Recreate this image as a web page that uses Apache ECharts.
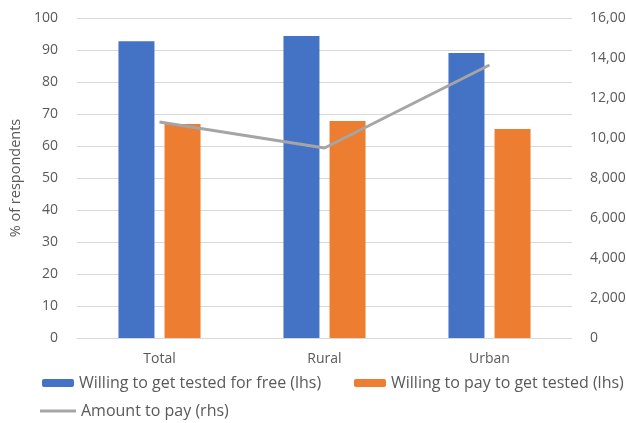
<!DOCTYPE html>
<html>
<head>
<meta charset="utf-8">
<script src="https://cdn.jsdelivr.net/npm/echarts@6/dist/echarts.min.js"></script>
<style>html,body{margin:0;padding:0;background:#fff}#c{width:626px;height:423px}</style>
</head>
<body>
<div id="c"></div>
<script>
const categories = ['Total', 'Rural', 'Urban'];
const freeTest = [92.7, 94.4, 89.1];
const payTest = [66.9, 67.8, 65.3];
const amountToPay = [10800, 9500, 13650];
const leftTicks = {min: 0, max: 100, interval: 10};
const rightTicks = {min: 0, max: 16000, interval: 2000};

const FONT = 'Open Sans';
const LABEL = '#595959';
const chart = echarts.init(document.getElementById('c'), null, {renderer: 'canvas'});
const legendText = {color: LABEL, fontFamily: FONT, fontSize: 16};
chart.setOption({
  animation: false,
  textStyle: {fontFamily: FONT},
  grid: {left: 77, right: 54, top: 18, bottom: 85, outerBoundsMode: 'none', containLabel: false},
  legend: [
    {data: ['Willing to get tested for free (lhs)'], left: 42, top: 375, itemWidth: 32, itemHeight: 8, itemGap: 0, textStyle: legendText, padding: 0},
    {data: ['Willing to pay to get tested (lhs)'], left: 354, top: 375, itemWidth: 32, itemHeight: 8, itemGap: 0, textStyle: legendText, padding: 0},
    {data: [{name: 'Amount to pay (rhs)', icon: 'rect'}], left: 40, top: 403, itemWidth: 36, itemHeight: 3, itemGap: 0, textStyle: legendText, padding: 0,
      itemStyle: {color: '#A5A5A5'}}
  ],
  xAxis: {
    type: 'category',
    data: categories,
    axisLine: {lineStyle: {color: '#D9D9D9'}},
    axisTick: {show: false},
    axisLabel: {color: LABEL, fontFamily: FONT, fontSize: 14, margin: 14}
  },
  yAxis: [
    {
      type: 'value', min: leftTicks.min, max: leftTicks.max, interval: leftTicks.interval,
      name: '% of respondents', nameLocation: 'middle', nameRotate: 90, nameGap: 52,
      nameTextStyle: {color: LABEL, fontFamily: FONT, fontSize: 14.5},
      axisLine: {show: false}, axisTick: {show: false},
      axisLabel: {color: LABEL, fontFamily: FONT, fontSize: 14, margin: 19},
      splitLine: {lineStyle: {color: '#D9D9D9'}}
    },
    {
      type: 'value', min: rightTicks.min, max: rightTicks.max, interval: rightTicks.interval,
      axisLine: {show: false}, axisTick: {show: false},
      axisLabel: {color: LABEL, fontFamily: FONT, fontSize: 14, margin: 18,
        formatter: v => v.toLocaleString('en-US')},
      splitLine: {show: false}
    }
  ],
  series: [
    {name: 'Willing to get tested for free (lhs)', type: 'bar', data: freeTest, barWidth: 36, barGap: '28%',
      itemStyle: {color: '#4472C4'}},
    {name: 'Willing to pay to get tested (lhs)', type: 'bar', data: payTest, barWidth: 36,
      itemStyle: {color: '#ED7D31'}},
    {name: 'Amount to pay (rhs)', type: 'line', yAxisIndex: 1, data: amountToPay, symbol: 'none',
      lineStyle: {color: '#A5A5A5', width: 3}, itemStyle: {color: '#A5A5A5'}}
  ]
});
</script>
</body>
</html>
